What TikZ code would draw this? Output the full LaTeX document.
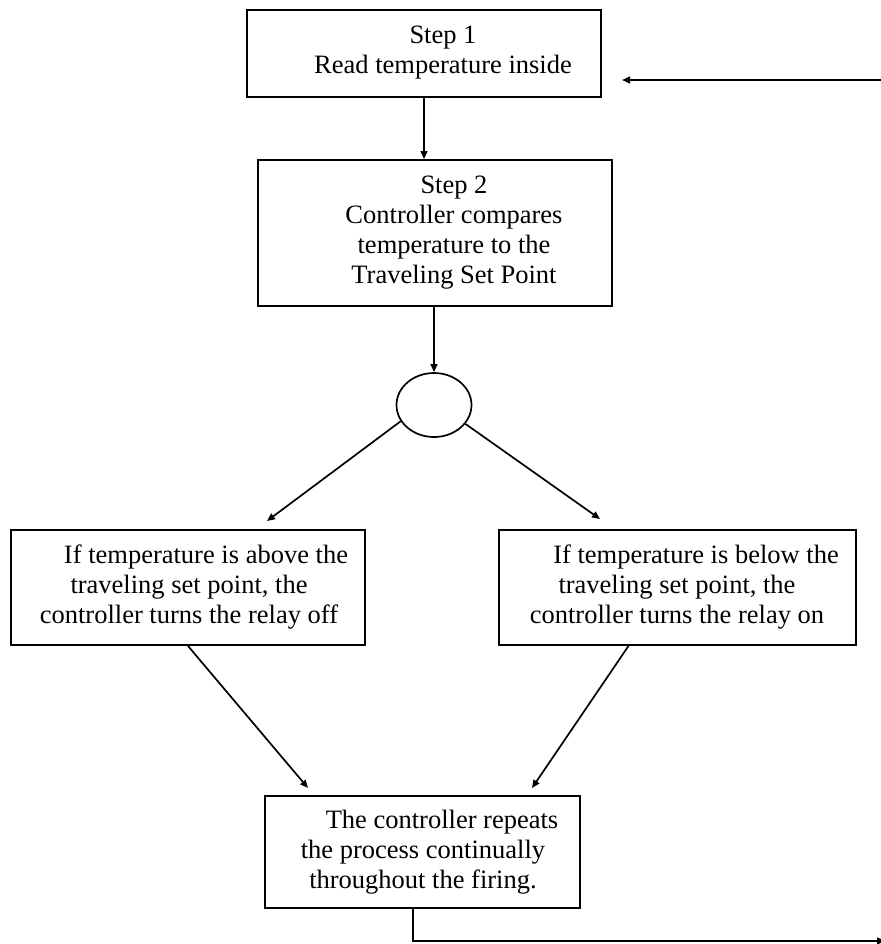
\documentclass[tikz,border=0pt]{standalone}
\usepackage{fontspec}
\setmainfont{Liberation Serif}
\usetikzlibrary{arrows.meta,shapes.geometric}
\begin{document}
\begin{tikzpicture}[x=0.5pt,y=-0.5pt,
  boxnode/.style={draw,line width=0.95pt,rectangle,inner sep=0pt},
  txt/.style={align=center,inner sep=0pt,font=\fontsize{13.25}{15}\selectfont},
  arr/.style={-{Triangle[length=4pt,width=3.4pt]},line width=0.85pt},
  fb/.style={line width=1pt}]
\useasboundingbox (0,0) rectangle (881,944);
% boxes
\node[boxnode,minimum width=177pt,minimum height=43.5pt] (s1) at (424,53.5) {};
\node[boxnode,minimum width=177pt,minimum height=73pt] (s2) at (435,233) {};
\node[draw,ellipse,line width=0.85pt,inner sep=0pt,minimum width=37.5pt,minimum height=32pt] (c) at (434,405) {};
\node[boxnode,minimum width=177pt,minimum height=57.5pt] (l) at (188,587.5) {};
\node[boxnode,minimum width=178.5pt,minimum height=57.5pt] (r) at (677.5,587.5) {};
\node[boxnode,minimum width=157.5pt,minimum height=56pt] (b) at (422.5,852) {};
% texts
\node[txt] (t1) at (443,53) {Step 1\\Read temperature inside};
\node[txt] (t2) at (454,233) {Step 2\\Controller compares\\temperature to the\hspace*{18.5pt}\\Traveling Set Point};
\node[txt] (tl) at (189,587) {\hspace*{17pt}If temperature is above the\\traveling set point, the\\controller turns the relay off};
\node[txt] (tr) at (677,587) {\hspace*{19pt}If temperature is below the\\traveling set point, the\\controller turns the relay on};
\node[txt] (tb) at (423,852) {\hspace*{19pt}The controller repeats\\the process continually\\throughout the firing.};
% free ends
\coordinate (la) at (267,521);
\coordinate (ra) at (600,519);
\coordinate (lb) at (308,788);
\coordinate (rb) at (532,788);
\coordinate (f1) at (413,941);
\coordinate (f2) at (885,941);
\coordinate (g0) at (885,80);
\coordinate (g1) at (622,80);
% connectors
\draw[arr] (s1.south) -- (s1.south |- s2.north);
\draw[arr] (s2.south -| c.north) -- (c.north);
\draw[arr] (c.206) -- (la);
\draw[arr] (c.329) -- (ra);
\draw[arr] (l.south) -- (lb);
\draw[arr] ([xshift=-24.5pt]r.south) -- (rb);
\draw[fb,-{Triangle[length=4pt,width=3.4pt]}] (b.south -| f1) -- (f1) -- (f2);
\draw[arr] (g0) -- (g1);
\end{tikzpicture}
\end{document}
